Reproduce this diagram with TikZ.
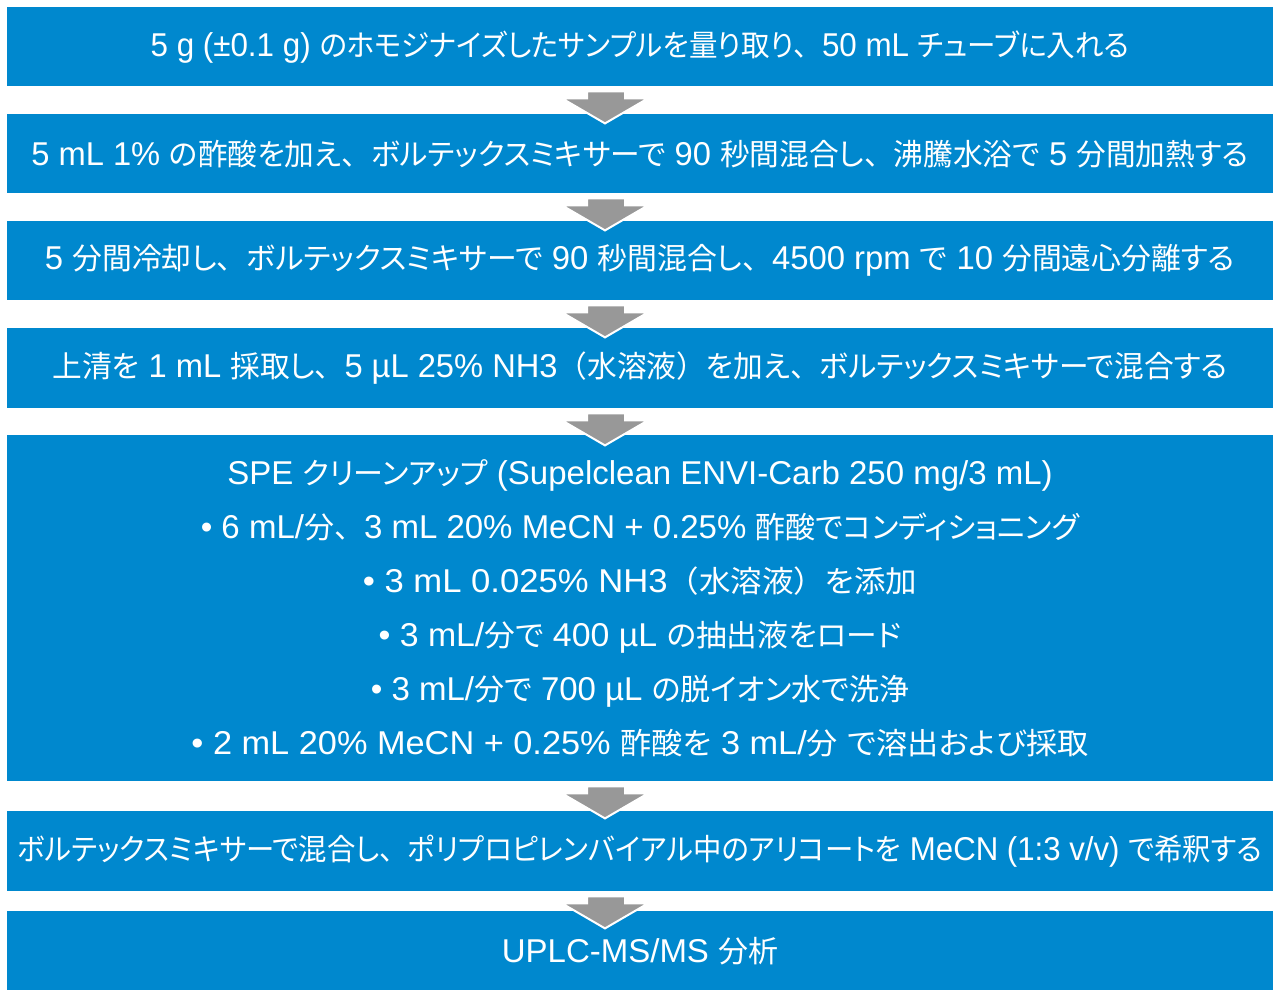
\documentclass[tikz,border=0pt]{standalone}
\usepackage{fontspec}
\usepackage{graphicx}
\setmainfont{Liberation Sans}
\newfontfamily\jfont{Noto Sans CJK JP}[RawFeature=+palt]
\newfontfamily\jfull{Noto Sans CJK JP}
\usetikzlibrary{calc}
\makeatletter
\newXeTeXintercharclass\jclass
\newXeTeXintercharclass\pclass
\count@="3000
\loop\XeTeXcharclass\count@=\jclass\ifnum\count@<"30FF\advance\count@ by 1\repeat
\count@="4E00
\loop\XeTeXcharclass\count@=\jclass\ifnum\count@<"9FFF\advance\count@ by 1\repeat
\count@="FF00
\loop\XeTeXcharclass\count@=\jclass\ifnum\count@<"FFEF\advance\count@ by 1\repeat
\XeTeXcharclass"3001=\pclass
\XeTeXcharclass"3002=\pclass
\XeTeXcharclass"FF08=\pclass
\XeTeXcharclass"FF09=\pclass
\XeTeXinterchartoks 0 \jclass = {\jfont\fontsize{30}{54}\selectfont}
\XeTeXinterchartoks 4095 \jclass = {\jfont\fontsize{30}{54}\selectfont}
\XeTeXinterchartoks \pclass \jclass = {\jfont\fontsize{30}{54}\selectfont}
\XeTeXinterchartoks 0 \pclass = {\jfull\fontsize{30}{54}\selectfont}
\XeTeXinterchartoks 4095 \pclass = {\jfull\fontsize{30}{54}\selectfont}
\XeTeXinterchartoks \jclass \pclass = {\jfull\fontsize{30}{54}\selectfont}
\XeTeXinterchartoks \jclass 0 = {\rmfamily\fontsize{33}{54}\selectfont}
\XeTeXinterchartoks \jclass 4095 = {\rmfamily\fontsize{33}{54}\selectfont}
\XeTeXinterchartoks \pclass 0 = {\rmfamily\fontsize{33}{54}\selectfont}
\XeTeXinterchartoks \pclass 4095 = {\rmfamily\fontsize{33}{54}\selectfont}
\makeatother
\XeTeXinterchartokenstate=1
\definecolor{boxblue}{RGB}{0,136,206}
\definecolor{arrowgray}{RGB}{152,152,152}
\newcommand\hsq[2]{\scalebox{#1}[1]{#2}}
\tikzset{
  box/.style={fill=boxblue, text=white, minimum width=1266pt, inner sep=0pt,
    anchor=north, font=\fontsize{33}{54}\selectfont, align=center},
  flowarrow/.style={fill=arrowgray, draw=white, line width=2pt, line join=miter}
}
\newcommand\stepArrow[2]{%
  \filldraw[flowarrow] ($(#1.south)+(-53,-5)$) -- ($(#1.south)+(-15,-5)$)
    -- ($(#1.south)+(-15,-12)$) -- ($(#1.south)+(8,-12)$)
    -- ($(#1.south)+(-35,-37)$) -- ($(#1.south)+(-78,-12)$)
    -- ($(#1.south)+(-53,-12)$) -- cycle;}
\begin{document}
\begin{tikzpicture}[x=1pt,y=1pt]
\useasboundingbox[fill=white] (0,0) rectangle (1280,-1000);
\node[box, minimum height=79pt] (b1) at (640,-7) {\hsq{0.95}{5 g (±0.1 g) のホモジナイズしたサンプルを量り取り、50 mL チューブに入れる}};
\node[box, minimum height=79pt] (b2) at (640,-114) {\hsq{0.99}{5 mL 1\% の酢酸を加え、ボルテックスミキサーで 90 秒間混合し、沸騰水浴で 5 分間加熱する}};
\node[box, minimum height=79pt] (b3) at (640,-221) {\hsq{0.995}{5 分間冷却し、ボルテックスミキサーで 90 秒間混合し、4500 rpm で 10 分間遠心分離する}};
\node[box, minimum height=80pt] (b4) at (640,-328) {\hsq{0.99}{上清を 1 mL 採取し、5 µL 25\% NH3（水溶液）を加え、ボルテックスミキサーで混合する}};
\node[box, minimum height=346pt] (b5) at (640,-435) {\hsq{1}{SPE クリーンアップ (Supelclean ENVI-Carb 250 mg/3 mL)}\\
\hsq{1}{• 6 mL/分、3 mL 20\% MeCN + 0.25\% 酢酸でコンディショニング}\\
\hsq{1.05}{• 3 mL 0.025\% NH3（水溶液）を添加}\\
\hsq{1.025}{• 3 mL/分で 400 µL の抽出液をロード}\\
\hsq{1}{• 3 mL/分で 700 µL の脱イオン水で洗浄}\\
\hsq{1.04}{• 2 mL 20\% MeCN + 0.25\% 酢酸を 3 mL/分 で溶出および採取}};
\node[box, minimum height=80pt] (b6) at (640,-811) {\hsq{0.945}{ボルテックスミキサーで混合し、ポリプロピレンバイアル中のアリコートを MeCN (1:3 v/v) で希釈する}};
\node[box, minimum height=79pt] (b7) at (640,-911) {\hsq{1}{UPLC-MS/MS 分析}};
\stepArrow{b1}{b2}
\stepArrow{b2}{b3}
\stepArrow{b3}{b4}
\stepArrow{b4}{b5}
\stepArrow{b5}{b6}
\stepArrow{b6}{b7}
\end{tikzpicture}
\end{document}
